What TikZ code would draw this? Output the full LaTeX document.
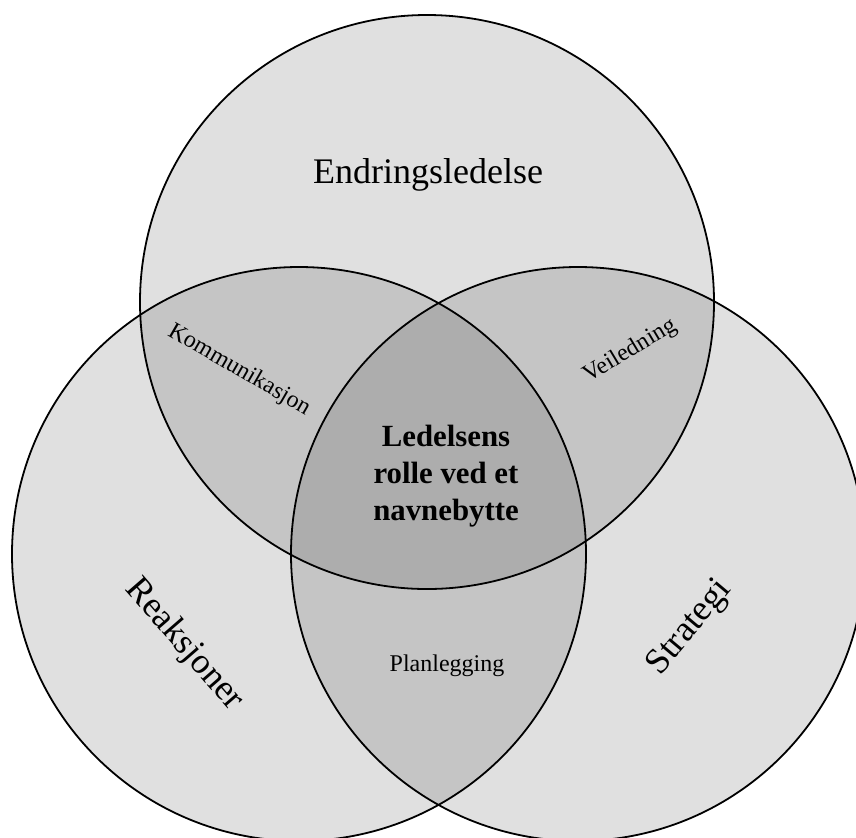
\documentclass[tikz,border=0pt]{standalone}
\usepackage{fontspec}
\setmainfont{Liberation Serif}
\begin{document}
\begin{tikzpicture}[x=0.5pt,y=-0.5pt]
		\newcommand{\myfontbig}[1]{
			\fontsize{18}{22}\selectfont{#1}
		}\newcommand{\myfontsmall}[1]{
			\fontsize{12}{14}\selectfont{#1}
		}%Outer frame
		\useasboundingbox (0,0) rectangle (856,837);
		\clip (0,0) rectangle (856,837);
		%Centers of the three circles
		\coordinate (centerTop) at (427,302);
		\coordinate (centerLeft) at (299,554);
		\coordinate (centerRight) at (578,554);
		%The circles, each one a little darker where they overlap
		\draw [line width=0.9pt, fill=black, fill opacity=0.12] (centerTop) circle [radius=143.5pt];
		\draw [line width=0.9pt, fill=black, fill opacity=0.12] (centerLeft) circle [radius=143.5pt];
		\draw [line width=0.9pt, fill=black, fill opacity=0.12] (centerRight) circle [radius=143.5pt];
		%Names of the circles
		\coordinate (wTop) at (428,175);
		\coordinate (wLeft) at (184,645);
		\coordinate (wRight) at (690,628);
		\node (endring) [] at (wTop) {\myfontbig{Endringsledelse}};
		\node (reaksjon) [rotate=-49] at (wLeft) {\myfontbig{Reaksjoner}};
		\node (strategi) [rotate=50] at (wRight) {\myfontbig{Strategi}};
		%Overlaps of two circles
		\coordinate (wTopLeft) at (239,370);
		\coordinate (wTopRight) at (630,351);
		\coordinate (wLeftRight) at (447,666);
		\node (kommunikasjon) [rotate=-30] at (wTopLeft) {\myfontsmall{Kommunikasjon}};
		\node (veiledning) [rotate=31] at (wTopRight) {\myfontsmall{Veiledning}};
		\node (planlegging) [] at (wLeftRight) {\myfontsmall{Planlegging}};
		%Overlap of all three
		\coordinate (wMiddle) at (446,476);
		\node (ledelse) [align=center, font=\fontsize{15.4}{18.5}\selectfont\bfseries] at (wMiddle) {Ledelsens\\rolle ved et\\navnebytte};
		\end{tikzpicture}
\end{document}
